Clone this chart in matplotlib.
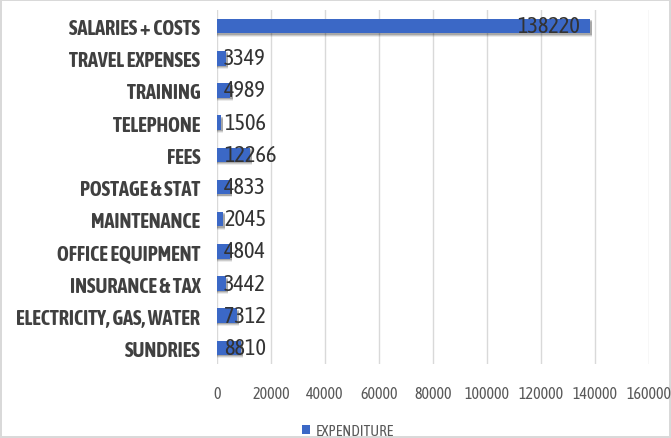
import matplotlib.pyplot as plt
from matplotlib import font_manager

categories = ['SALARIES + COSTS', 'TRAVEL EXPENSES', 'TRAINING', 'TELEPHONE', 'FEES',
              'POSTAGE & STAT', 'MAINTENANCE', 'OFFICE EQUIPMENT', 'INSURANCE & TAX',
              'ELECTRICITY, GAS, WATER', 'SUNDRIES']
expenditure = [138220, 3349, 4989, 1506, 12266, 4833, 2045, 4804, 3442, 7312, 8810]
xticks = [0, 20000, 40000, 60000, 80000, 100000, 120000, 140000, 160000]

plt.rcParams['font.family'] = ['Asap Condensed', 'DejaVu Sans']

fig = plt.figure(figsize=(6.71, 4.39), dpi=100)
fig.patch.set_edgecolor('#d9d9d9')
fig.patch.set_linewidth(1.5)
ax = fig.add_axes([217 / 671, 1 - 365 / 439, (649 - 217) / 671, (365 - 11) / 439])

y = list(range(len(categories)))
# soft shadow under the bars
for dy, a in [(0.10, 0.08), (0.07, 0.13), (0.04, 0.18)]:
    ax.barh([yi + dy for yi in y], [v + 800 for v in expenditure], height=0.45,
            color='#000000', alpha=a, zorder=2, linewidth=0)
bars = ax.barh(y, expenditure, height=0.45, color='#3b68c6', zorder=3, label='EXPENDITURE')

for yi, v in zip(y, expenditure):
    if v > 40000:
        ax.annotate(str(v), (v, yi), xytext=(-7, 0), textcoords='offset points',
                    ha='right', va='center', fontsize=16, color='#333333', zorder=4)
    else:
        ax.annotate(str(v), (0, yi), xytext=(5, 0), textcoords='offset points',
                    ha='left', va='center', fontsize=16, color='#333333', zorder=4)

ax.set_xlim(0, 160000)
ax.set_ylim(len(categories) - 0.5, -0.5)
ax.set_yticks(y)
ax.set_yticklabels(categories, fontsize=14.5, fontweight='bold', color='#404040')
ax.set_xticks(xticks)
ax.set_xticklabels([str(t) for t in xticks], fontsize=11.5, color='#595959')
ax.tick_params(axis='both', length=0)
ax.tick_params(axis='x', pad=15)
ax.tick_params(axis='y', pad=12)
ax.grid(axis='x', color='#d9d9d9', linewidth=1, zorder=0)
for s in ax.spines.values():
    s.set_visible(False)

fig.legend(handles=[bars], loc='center', bbox_to_anchor=(348 / 671, 1 - 432 / 439),
           frameon=False, fontsize=11, labelcolor='#595959', handlelength=0.5,
           handleheight=0.6, handletextpad=0.4)

fig.savefig('out.png', dpi=100)
